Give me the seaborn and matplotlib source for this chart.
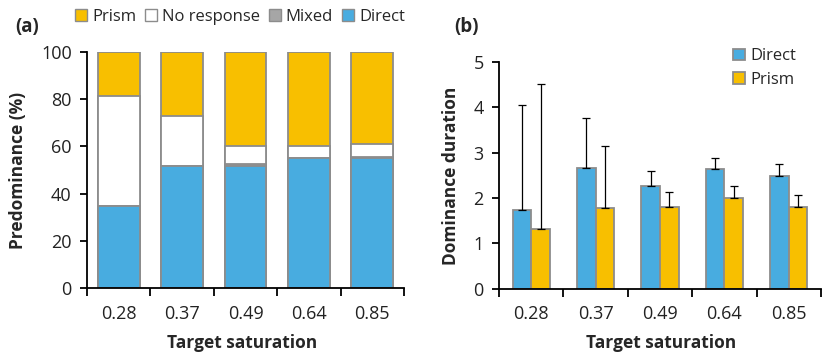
import numpy as np
import pandas as pd
import matplotlib
matplotlib.use("Agg")
import matplotlib.pyplot as plt
import seaborn as sns
from matplotlib.patches import Patch

saturation = ["0.28", "0.37", "0.49", "0.64", "0.85"]

# panel (a): predominance (%), stacked from the bottom
pred_direct = [34.9, 51.8, 51.9, 54.9, 54.9]
pred_mixed = [0.0, 0.1, 0.7, 0.3, 0.7]
pred_noresp = [46.3, 21.1, 7.4, 4.8, 5.6]
pred_prism = [18.8, 27.0, 40.0, 40.0, 38.8]

# panel (b): mean dominance duration with upper error
dur_direct = [1.74, 2.66, 2.27, 2.65, 2.49]
dur_prism = [1.31, 1.77, 1.80, 2.00, 1.80]
err_direct = [2.31, 1.10, 0.32, 0.23, 0.26]
err_prism = [3.20, 1.38, 0.33, 0.26, 0.26]

BLUE = "#48ACE0"
YELLOW = "#F8BF00"
GREY = "#A6A6A6"
EDGE = "#8C8C8C"

sns.set_style("ticks")
plt.rcParams["font.family"] = ["Open Sans", "DejaVu Sans"]
plt.rcParams["axes.linewidth"] = 1.3
plt.rcParams["xtick.major.width"] = 1.3
plt.rcParams["ytick.major.width"] = 1.3
plt.rcParams["xtick.minor.width"] = 1.3

fig = plt.figure(figsize=(8.22, 3.52), dpi=100)
ax1 = fig.add_axes([87 / 822, 1 - 288 / 352, 317 / 822, 236 / 352])
ax2 = fig.add_axes([499 / 822, 1 - 288.7 / 352, 322 / 822, 226.7 / 352])

# ---- (a) stacked bars, drawn as cumulative layers from top down
df_a = pd.DataFrame({
    "sat": saturation,
    "direct": pred_direct,
    "mixed": pred_mixed,
    "noresp": pred_noresp,
    "prism": pred_prism,
})
df_a["c_mixed"] = df_a["direct"] + df_a["mixed"]
df_a["c_noresp"] = df_a["c_mixed"] + df_a["noresp"]
df_a["c_prism"] = df_a["c_noresp"] + df_a["prism"]

for col, color in [("c_prism", YELLOW), ("c_noresp", "white"),
                   ("c_mixed", GREY), ("direct", BLUE)]:
    sns.barplot(data=df_a, x="sat", y=col, color=color, width=0.66,
                edgecolor=EDGE, linewidth=1.3, saturation=1, ax=ax1)

ax1.set_ylim(0, 100)
ax1.set_xlim(-0.5, 4.5)
ax1.set_yticks(np.arange(0, 101, 20))
ax1.set_ylabel("Predominance (%)", fontsize=12.5, fontweight="bold")
ax1.yaxis.set_label_coords(-0.19, 0.5)
ax1.set_xlabel("Target saturation", fontsize=12.5, fontweight="bold")
ax1.xaxis.set_label_coords(0.489, -0.195)

leg_a = [Patch(facecolor=YELLOW, edgecolor=EDGE, label="Prism"),
         Patch(facecolor="white", edgecolor=EDGE, label="No response"),
         Patch(facecolor=GREY, edgecolor=EDGE, label="Mixed"),
         Patch(facecolor=BLUE, edgecolor=EDGE, label="Direct")]
fig.legend(handles=leg_a, loc="center left", bbox_to_anchor=(67 / 822, 1 - 17 / 352),
           ncol=4, frameon=False, fontsize=12, handlelength=0.7, handleheight=0.7,
           handletextpad=0.3, columnspacing=0.55, borderpad=0)

# ---- (b) grouped bars with upward error bars
df_b = pd.DataFrame({
    "sat": saturation * 2,
    "cond": ["Direct"] * 5 + ["Prism"] * 5,
    "dur": dur_direct + dur_prism,
})
sns.barplot(data=df_b, x="sat", y="dur", hue="cond", palette=[BLUE, YELLOW],
            width=0.58, edgecolor=EDGE, linewidth=1.3, saturation=1,
            errorbar=None, ax=ax2)

errs = err_direct + err_prism
bars = ax2.patches[:10]
xs = [b.get_x() + b.get_width() / 2 for b in bars]
ys = [b.get_height() for b in bars]
ax2.errorbar(xs, ys, yerr=[np.zeros(10), errs], fmt="none", ecolor="black",
             elinewidth=0.9, capsize=3, capthick=0.9, zorder=5)

ax2.set_ylim(0, 5)
ax2.set_xlim(-0.5, 4.35)
ax2.set_yticks(np.arange(0, 6, 1))
ax2.set_ylabel("Dominance duration", fontsize=12.5, fontweight="bold")
ax2.yaxis.set_label_coords(-0.12, 0.5)
ax2.set_xlabel("Target saturation", fontsize=12.5, fontweight="bold")
ax2.xaxis.set_label_coords(0.503, -0.2)
ax2.legend(loc="upper left", bbox_to_anchor=(725 / 822, 1 - 40 / 352),
           bbox_transform=fig.transFigure, frameon=False, fontsize=12,
           handlelength=0.7, handleheight=0.7, handletextpad=0.35,
           labelspacing=0.45, borderpad=0, title=None)
for h in ax2.get_legend().get_patches():
    h.set_edgecolor(EDGE)

for ax in (ax1, ax2):
    sns.despine(ax=ax)
    ax.spines["left"].set_color("black")
    ax.spines["bottom"].set_color("black")
    ax.set_xticks(np.arange(-0.5, 5, 1), minor=True)
    ax.tick_params(axis="x", which="major", length=0, pad=12, labelsize=13, colors="#222222")
    ax.tick_params(axis="x", which="minor", length=6, direction="out", color="black")
    ax.tick_params(axis="y", length=5, direction="out", pad=6, labelsize=13,
                   color="black", labelcolor="#222222")

fig.text(15 / 822, 1 - 27 / 352, "(a)", fontsize=13.5, fontweight="bold", va="center")
fig.text(454 / 822, 1 - 27 / 352, "(b)", fontsize=13.5, fontweight="bold", va="center")

fig.savefig("out.png", dpi=100)
